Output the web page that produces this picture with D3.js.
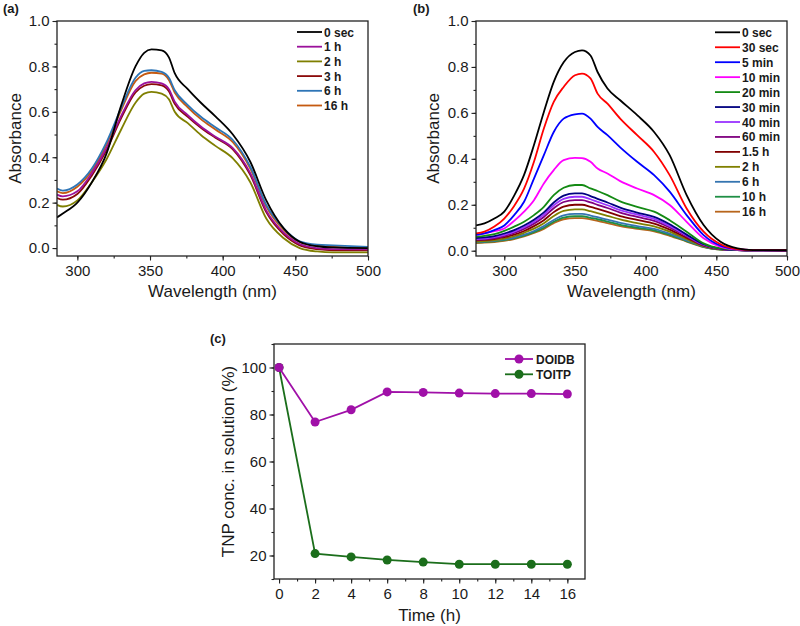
<!DOCTYPE html>
<html>
<head>
<meta charset="utf-8">
<script src="https://cdn.jsdelivr.net/npm/d3@7"></script>
<style>
  body { margin: 0; background: #fff; }
  text { font-family: Arial, "Liberation Sans", sans-serif; fill: #1a1a1a; }
</style>
</head>
<body>
<svg id="fig" width="800" height="626"></svg>
<script>
// ---- panel (a) data ----
var waveA = [286, 290, 300, 310, 320, 330, 340, 346, 351, 358, 363, 367, 376, 385, 395, 407, 419, 430, 442, 453, 465, 476, 500];
var labelsA = ["0 sec", "1 h", "2 h", "3 h", "6 h", "16 h"];
var a_0sec = [0.135, 0.152, 0.2, 0.29, 0.415, 0.625, 0.8, 0.86, 0.875, 0.871, 0.84, 0.77, 0.70, 0.64, 0.58, 0.50, 0.38, 0.21, 0.087, 0.028, 0.008, 0.003, 0.0];
var a_1h   = [0.235, 0.228, 0.25, 0.33, 0.44, 0.58, 0.695, 0.725, 0.732, 0.725, 0.70, 0.645, 0.585, 0.535, 0.49, 0.44, 0.33, 0.165, 0.068, 0.018, 0.0, -0.005, -0.006];
var a_2h   = [0.19, 0.183, 0.21, 0.29, 0.39, 0.52, 0.64, 0.68, 0.688, 0.68, 0.655, 0.60, 0.55, 0.498, 0.45, 0.395, 0.29, 0.13, 0.043, 0.0, -0.015, -0.019, -0.019];
var a_3h   = [0.22, 0.213, 0.238, 0.32, 0.43, 0.57, 0.685, 0.715, 0.722, 0.716, 0.69, 0.635, 0.578, 0.53, 0.486, 0.435, 0.322, 0.158, 0.06, 0.012, -0.005, -0.01, -0.01];
var a_6h   = [0.262, 0.253, 0.28, 0.35, 0.465, 0.615, 0.75, 0.78, 0.783, 0.776, 0.75, 0.695, 0.63, 0.578, 0.532, 0.476, 0.358, 0.19, 0.087, 0.03, 0.015, 0.012, 0.005];
var a_16h  = [0.25, 0.242, 0.27, 0.34, 0.455, 0.605, 0.735, 0.765, 0.772, 0.768, 0.74, 0.685, 0.62, 0.568, 0.522, 0.466, 0.35, 0.183, 0.08, 0.026, 0.01, 0.005, 0.0];

// ---- panel (b) data ----
var waveB = [279, 286, 293, 300, 307, 314, 321, 328, 335, 342, 350, 355, 361, 366, 373, 382, 394, 406, 417, 429, 441, 453, 465, 476, 500];
var labelsB = ["0 sec", "30 sec", "5 min", "10 min", "20 min", "30 min", "40 min", "60 min", "1.5 h", "2 h", "6 h", "10 h", "16 h"];
var b_0sec  = [0.109, 0.119, 0.14, 0.17, 0.24, 0.33, 0.46, 0.604, 0.735, 0.82, 0.865, 0.872, 0.85, 0.778, 0.706, 0.655, 0.59, 0.517, 0.416, 0.242, 0.112, 0.039, 0.01, 0.003, 0.002];
var b_30sec = [0.075, 0.083, 0.105, 0.14, 0.195, 0.27, 0.387, 0.532, 0.648, 0.713, 0.764, 0.771, 0.75, 0.684, 0.64, 0.575, 0.503, 0.43, 0.329, 0.184, 0.083, 0.028, 0.007, 0.003, 0.002];
var b_5min  = [0.068, 0.075, 0.09, 0.11, 0.155, 0.213, 0.314, 0.416, 0.517, 0.575, 0.594, 0.597, 0.575, 0.539, 0.503, 0.45, 0.387, 0.329, 0.257, 0.155, 0.068, 0.022, 0.007, 0.003, 0.002];
var b_10min = [0.068, 0.075, 0.085, 0.097, 0.13, 0.17, 0.22, 0.293, 0.351, 0.394, 0.404, 0.403, 0.387, 0.358, 0.336, 0.303, 0.271, 0.242, 0.199, 0.126, 0.054, 0.017, 0.005, 0.002, 0.002];
var b_20min = [0.061, 0.065, 0.072, 0.086, 0.105, 0.126, 0.155, 0.191, 0.242, 0.274, 0.286, 0.286, 0.271, 0.26, 0.242, 0.215, 0.191, 0.17, 0.133, 0.083, 0.032, 0.01, 0.004, 0.002, 0.002];
var b_30min = [0.055, 0.058, 0.064, 0.075, 0.09, 0.11, 0.135, 0.167, 0.21, 0.24, 0.25, 0.25, 0.238, 0.226, 0.21, 0.188, 0.166, 0.147, 0.115, 0.07, 0.028, 0.009, 0.003, 0.002, 0.002];
var b_40min = [0.05, 0.053, 0.059, 0.069, 0.083, 0.102, 0.126, 0.157, 0.198, 0.226, 0.235, 0.235, 0.224, 0.213, 0.198, 0.177, 0.157, 0.139, 0.108, 0.066, 0.026, 0.008, 0.003, 0.002, 0.002];
var b_60min = [0.048, 0.05, 0.055, 0.064, 0.077, 0.095, 0.118, 0.147, 0.185, 0.212, 0.22, 0.22, 0.21, 0.2, 0.186, 0.166, 0.147, 0.13, 0.101, 0.062, 0.024, 0.008, 0.003, 0.002, 0.002];
var b_1_5h  = [0.045, 0.047, 0.051, 0.059, 0.07, 0.086, 0.107, 0.133, 0.168, 0.192, 0.2, 0.2, 0.191, 0.182, 0.169, 0.151, 0.134, 0.118, 0.092, 0.056, 0.022, 0.007, 0.003, 0.002, 0.002];
var b_2h    = [0.04, 0.042, 0.046, 0.053, 0.063, 0.078, 0.096, 0.12, 0.151, 0.173, 0.18, 0.18, 0.172, 0.164, 0.152, 0.136, 0.12, 0.106, 0.083, 0.05, 0.02, 0.006, 0.003, 0.002, 0.002];
var b_6h    = [0.038, 0.04, 0.043, 0.049, 0.057, 0.07, 0.086, 0.107, 0.134, 0.154, 0.16, 0.16, 0.153, 0.146, 0.135, 0.121, 0.107, 0.095, 0.074, 0.045, 0.018, 0.006, 0.003, 0.002, 0.002];
var b_10h   = [0.036, 0.038, 0.041, 0.046, 0.054, 0.066, 0.081, 0.1, 0.126, 0.144, 0.15, 0.15, 0.143, 0.137, 0.127, 0.113, 0.1, 0.089, 0.069, 0.042, 0.017, 0.005, 0.003, 0.002, 0.002];
var b_16h   = [0.033, 0.035, 0.038, 0.043, 0.051, 0.062, 0.077, 0.095, 0.12, 0.137, 0.142, 0.142, 0.136, 0.13, 0.12, 0.107, 0.095, 0.084, 0.065, 0.04, 0.016, 0.005, 0.003, 0.002, 0.002];

// ---- panel (c) data ----
var timeC = [0, 2, 4, 6, 8, 10, 12, 14, 16];
var doidb = [100, 76.8, 82, 89.6, 89.4, 89.1, 88.9, 88.9, 88.7];
var toitp = [100, 20.8, 19.4, 18.1, 17.2, 16.3, 16.3, 16.3, 16.3];

var colorsA = ["#000000", "#9b119b", "#7f7f00", "#8b0a0a", "#2e75b6", "#c55a11"];
var colorsB = ["#000000", "#ff0000", "#0000ff", "#ff00ff", "#138a13", "#000080", "#9933ff", "#800080", "#800000", "#808000", "#3575b0", "#1f8f45", "#b8651c"];

var svg = d3.select("#fig");

function frame(g, x, y) {
  g.append("rect")
    .attr("x", x.range()[0]).attr("y", y.range()[1])
    .attr("width", x.range()[1] - x.range()[0])
    .attr("height", y.range()[0] - y.range()[1])
    .attr("fill", "none").attr("stroke", "#222").attr("stroke-width", 1.3);
}

function axes(g, x, y, xMajor, xMinor, yMajor, yMinor, yFmt) {
  var b = y.range()[0], l = x.range()[0];
  g.append("g").attr("transform", "translate(0," + b + ")")
    .call(d3.axisBottom(x).tickValues(xMinor).tickSize(2.5).tickFormat(""));
  g.append("g").attr("transform", "translate(0," + b + ")")
    .call(d3.axisBottom(x).tickValues(xMajor).tickSize(4.5).tickPadding(5))
    .attr("font-size", 15);
  g.append("g").attr("transform", "translate(" + l + ",0)")
    .call(d3.axisLeft(y).tickValues(yMinor).tickSize(2.5).tickFormat(""));
  g.append("g").attr("transform", "translate(" + l + ",0)")
    .call(d3.axisLeft(y).tickValues(yMajor).tickSize(4.5).tickPadding(3).tickFormat(yFmt))
    .attr("font-size", 15);
  g.selectAll(".domain").remove();
  g.selectAll(".tick line").attr("stroke", "#222").attr("stroke-width", 1.1);
  g.selectAll(".tick text").attr("fill", "#1a1a1a").attr("font-family", "Arial, 'Liberation Sans', sans-serif");
}

function spectrum(p) {
  var g = svg.append("g");
  var x = d3.scaleLinear().domain(p.xDom).range([p.left, p.right]);
  var y = d3.scaleLinear().domain(p.yDom).range([p.bottom, p.top]);
  var clipId = "clip" + p.name;
  g.append("clipPath").attr("id", clipId).append("rect")
    .attr("x", p.left).attr("y", p.top).attr("width", p.right - p.left).attr("height", p.bottom - p.top);

  var line = d3.line()
    .x(function (d, i) { return x(p.wave[i]); })
    .y(function (d) { return y(d); })
    .curve(d3.curveMonotoneX);

  // draw last series first so black stays on top
  var order = d3.range(p.series.length).reverse();
  g.append("g").attr("clip-path", "url(#" + clipId + ")")
    .selectAll("path").data(order).enter().append("path")
    .attr("d", function (i) { return line(p.series[i]); })
    .attr("fill", "none")
    .attr("stroke", function (i) { return p.colors[i]; })
    .attr("stroke-width", 1.8);

  axes(g, x, y, [300, 350, 400, 450, 500], d3.range(p.xDom[0] < 280 ? 275 : 300, 501, 25),
    [0, 0.2, 0.4, 0.6, 0.8, 1.0], d3.range(0, 1.01, 0.1), d3.format(".1f"));
  frame(g, x, y);

  // legend
  var leg = g.selectAll("g.legend").data(p.labels).enter().append("g").attr("class", "legend")
    .attr("transform", function (d, i) { return "translate(" + p.legX + "," + (p.legY + i * p.legDy) + ")"; });
  leg.append("line").attr("x1", 0).attr("x2", 25).attr("y1", 0).attr("y2", 0)
    .attr("stroke", function (d, i) { return p.colors[i]; }).attr("stroke-width", 1.8);
  leg.append("text").attr("x", 27).attr("y", 4.5).attr("font-size", 12).attr("font-weight", "bold")
    .text(function (d) { return d; });

  g.append("text").attr("x", (p.left + p.right) / 2).attr("y", 297).attr("text-anchor", "middle")
    .attr("font-size", 17).text("Wavelength (nm)");
  g.append("text").attr("transform", "translate(" + p.yTitleX + "," + ((p.top + p.bottom) / 2) + ") rotate(-90)")
    .attr("text-anchor", "middle").attr("font-size", 17).text("Absorbance");
  g.append("text").attr("x", p.tagX).attr("y", 13).attr("font-size", 13).attr("font-weight", "bold").text(p.tag);
}

spectrum({
  name: "a", tag: "(a)", tagX: 3, left: 57, right: 368, top: 21, bottom: 256,
  xDom: [286, 500], yDom: [-0.035, 1.0], wave: waveA,
  series: [a_0sec, a_1h, a_2h, a_3h, a_6h, a_16h], labels: labelsA, colors: colorsA,
  legX: 297, legY: 32, legDy: 14.7, yTitleX: 21
});

spectrum({
  name: "b", tag: "(b)", tagX: 413, left: 476, right: 787, top: 21, bottom: 256,
  xDom: [280, 500], yDom: [-0.023, 1.0], wave: waveB,
  series: [b_0sec, b_30sec, b_5min, b_10min, b_20min, b_30min, b_40min, b_60min, b_1_5h, b_2h, b_6h, b_10h, b_16h],
  labels: labelsB, colors: colorsB,
  legX: 715, legY: 32.3, legDy: 14.95, yTitleX: 439
});

// ---- panel (c) ----
(function () {
  var left = 274, right = 585, top = 344, bottom = 579;
  var g = svg.append("g");
  var x = d3.scaleLinear().domain([-0.28, 16.98]).range([left, right]);
  var y = d3.scaleLinear().domain([10, 110]).range([bottom, top]);
  var cSeries = [
    { name: "DOIDB", values: doidb, color: "#a010a8" },
    { name: "TOITP", values: toitp, color: "#1b6e1b" }
  ];
  var line = d3.line().x(function (d, i) { return x(timeC[i]); }).y(function (d) { return y(d); });

  axes(g, x, y, d3.range(0, 17, 2), d3.range(0, 17, 1), [20, 40, 60, 80, 100], d3.range(10, 111, 10), d3.format("d"));
  frame(g, x, y);

  cSeries.slice().reverse().forEach(function (s) {
    g.append("path").attr("d", line(s.values)).attr("fill", "none")
      .attr("stroke", s.color).attr("stroke-width", 1.8);
    g.selectAll(null).data(s.values).enter().append("circle")
      .attr("cx", function (d, i) { return x(timeC[i]); })
      .attr("cy", function (d) { return y(d); })
      .attr("r", 4.5).attr("fill", s.color);
  });

  var leg = g.selectAll("g.legc").data(cSeries).enter().append("g")
    .attr("transform", function (d, i) { return "translate(505," + (359 + i * 15.3) + ")"; });
  leg.append("line").attr("x1", 0).attr("x2", 28).attr("stroke", function (d) { return d.color; }).attr("stroke-width", 1.8);
  leg.append("circle").attr("cx", 14).attr("r", 4.5).attr("fill", function (d) { return d.color; });
  leg.append("text").attr("x", 31).attr("y", 4.5).attr("font-size", 12).attr("font-weight", "bold")
    .text(function (d) { return d.name; });

  g.append("text").attr("x", (left + right) / 2).attr("y", 621).attr("text-anchor", "middle")
    .attr("font-size", 17).text("Time (h)");
  g.append("text").attr("transform", "translate(234," + ((top + bottom) / 2) + ") rotate(-90)")
    .attr("text-anchor", "middle").attr("font-size", 17).text("TNP conc. in solution (%)");
  g.append("text").attr("x", 210).attr("y", 343).attr("font-size", 13).attr("font-weight", "bold").text("(c)");
})();
</script>
</body>
</html>
